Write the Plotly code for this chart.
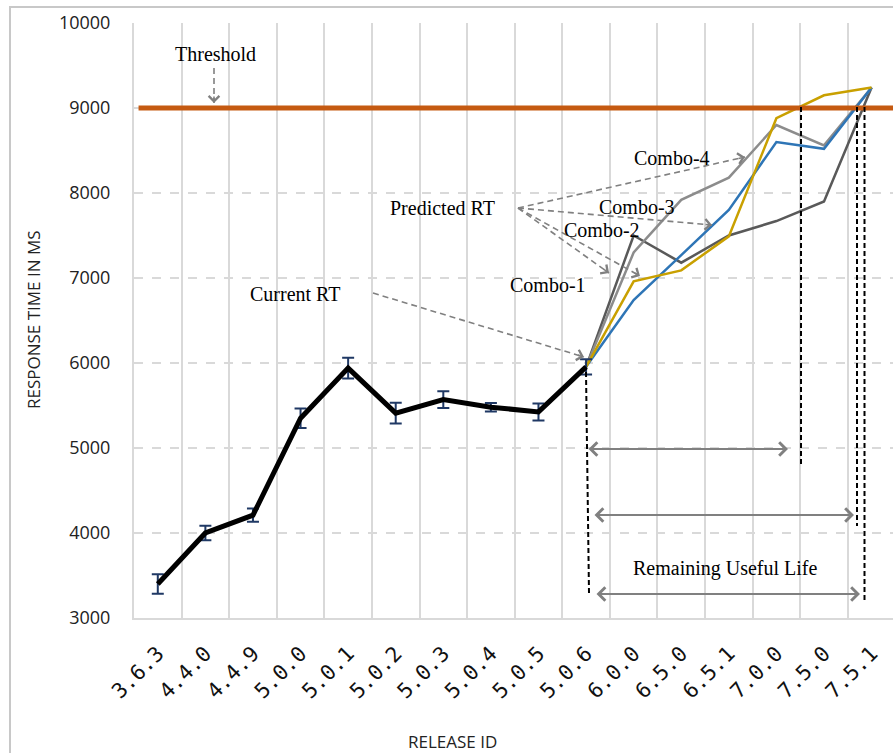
import plotly.graph_objects as go

# ---------------- data ----------------
releases = ["3.6.3", "4.4.0", "4.4.9", "5.0.0", "5.0.1", "5.0.2", "5.0.3", "5.0.4",
            "5.0.5", "5.0.6", "6.0.0", "6.5.0", "6.5.1", "7.0.0", "7.5.0", "7.5.1"]

current_releases = releases[:10]
current_rt = [3400, 4000, 4210, 5350, 5940, 5410, 5570, 5480, 5425, 5955]
current_err = [115, 86, 78, 114, 123, 121, 98, 50, 100, 90]

pred_releases = releases[9:]
combo_dark = [5955, 7500, 7180, 7500, 7670, 7900, 9240]
combo_gray = [5955, 7300, 7920, 8180, 8800, 8560, 9240]
combo_blue = [5955, 6740, 7270, 7800, 8600, 8520, 9240]
combo_gold = [5955, 6960, 7090, 7490, 8880, 9150, 9240]

threshold = 9000
y_ticks = [3000, 4000, 5000, 6000, 7000, 8000, 9000, 10000]
y_tick_text = ["3000", "4000", "5000", "6000", "7000", "8000", "9000", "10000"]

# ---------------- geometry helpers (pixel -> paper) ----------------
W, H = 893, 753
L, R, T, B = 134, 0, 23, 135
PW = W - L - R
PH = H - T - B


def px(x):
    return (x - L) / PW


def py(y):
    return (H - B - y) / PH


fig = go.Figure()

# predicted combos
for vals, col in [(combo_dark, "#595959"), (combo_gray, "#8C8C8C"),
                  (combo_blue, "#2E75B6"), (combo_gold, "#C9A000")]:
    fig.add_trace(go.Scatter(x=pred_releases, y=vals, mode="lines",
                             line=dict(color=col, width=2.5), showlegend=False,
                             hoverinfo="skip"))

# current RT with error bars
fig.add_trace(go.Scatter(
    x=current_releases, y=current_rt, mode="lines",
    line=dict(color="black", width=5),
    error_y=dict(type="data", array=current_err, visible=True,
                 color="#1F3864", thickness=2, width=6),
    showlegend=False))

shapes = []
annotations = []

# threshold line
shapes.append(dict(type="line", xref="paper", yref="y", x0=0.006, x1=1.0,
                   y0=threshold, y1=threshold,
                   line=dict(color="#C55A11", width=5)))

# chart border (left and top edges visible in the picture)
shapes.append(dict(type="rect", xref="paper", yref="paper", layer="below",
                   x0=px(10), x1=px(900), y0=py(7), y1=py(760),
                   line=dict(color="#C8C8C8", width=2)))

# vertical black dashed lines
for x0, y0, x1, y1 in [(586, 372, 589, 593), (801, 107, 801, 465),
                       (857, 107, 857, 526), (864.5, 107, 864.5, 600)]:
    shapes.append(dict(type="line", xref="paper", yref="paper",
                       x0=px(x0), y0=py(y0), x1=px(x1), y1=py(y1),
                       line=dict(color="black", width=2, dash="5px,3px")))


def dashed_arrow(tx, ty, hx, hy):
    shapes.append(dict(type="line", xref="paper", yref="paper",
                       x0=px(tx), y0=py(ty), x1=px(hx), y1=py(hy),
                       line=dict(color="#808080", width=1.6, dash="6px,4px")))
    d = ((hx - tx) ** 2 + (hy - ty) ** 2) ** 0.5
    ux, uy = (hx - tx) / d, (hy - ty) / d
    annotations.append(dict(xref="paper", yref="paper", x=px(hx), y=py(hy),
                            ax=-ux * 8, ay=-uy * 8, text="", showarrow=True,
                            arrowhead=4, arrowsize=1.3, arrowwidth=1.6,
                            arrowcolor="#808080"))


dashed_arrow(214, 68, 214, 103)
dashed_arrow(373, 293, 584, 357)
for hx, hy in [(745, 157), (712, 225), (640, 276), (609, 273)]:
    dashed_arrow(518, 208, hx, hy)

# double-headed RUL arrows
for x0, x1, y in [(587, 788, 449), (593, 854, 515), (595, 860, 594)]:
    annotations.append(dict(xref="paper", yref="paper", x=px(x1), y=py(y),
                            ax=x0 - x1, ay=0, text="", showarrow=True,
                            arrowside="end+start", arrowhead=4, startarrowhead=4,
                            arrowsize=1.3, startarrowsize=1.3, arrowwidth=2,
                            arrowcolor="#808080"))

serif = dict(family="Liberation Serif", size=20, color="black")
for txt, x, y in [("Threshold", 215, 54), ("Predicted RT", 442, 208),
                  ("Current RT", 295, 294), ("Combo-4", 672, 158),
                  ("Combo-3", 637, 207), ("Combo-2", 602, 230),
                  ("Combo-1", 548, 285), ("Remaining Useful Life", 725, 568)]:
    annotations.append(dict(xref="paper", yref="paper", x=px(x), y=py(y),
                            text=txt, showarrow=False, font=serif,
                            xanchor="center", yanchor="middle"))

sans = dict(family="Open Sans", size=18, color="#222222")
annotations.append(dict(xref="paper", yref="paper", x=px(33), y=py(320),
                        text="RESPONSE TIME IN MS", textangle=-90, showarrow=False,
                        font=dict(family="Open Sans", size=17, color="#222222"),
                        xanchor="center", yanchor="middle"))
annotations.append(dict(xref="paper", yref="paper", x=px(452), y=py(741),
                        text="RELEASE ID", showarrow=False,
                        font=dict(family="Open Sans", size=17, color="#222222"),
                        xanchor="center", yanchor="middle"))

fig.update_layout(
    width=W, height=H,
    margin=dict(l=L, r=R, t=T, b=B, pad=0, autoexpand=False),
    paper_bgcolor="white", plot_bgcolor="white",
    shapes=shapes, annotations=annotations,
    xaxis=dict(type="category", categoryorder="array", categoryarray=releases,
               range=[-0.5, 15.45], tickson="boundaries", showgrid=True,
               gridcolor="#D9D9D9", gridwidth=2, ticks="", automargin=False,
               tickangle=-45, tickfont=dict(family="DejaVu Sans Mono", size=21, color="#111111"),
               ticklabelstandoff=13,
               showline=True, linecolor="#D9D9D9", linewidth=2, zeroline=False),
    yaxis=dict(range=[3000, 10000], tickvals=y_ticks, ticktext=y_tick_text,
               showgrid=True, automargin=False,
               gridcolor="#D9D9D9", gridwidth=2, griddash="dash",
               ticks="", tickfont=sans, ticklabelstandoff=18,
               showline=True, linecolor="#D9D9D9", linewidth=2, zeroline=False),
)

fig.write_html("out.html", config={"displayModeBar": False},
               post_script="document.body.style.margin='0';document.body.style.overflow='hidden';")
